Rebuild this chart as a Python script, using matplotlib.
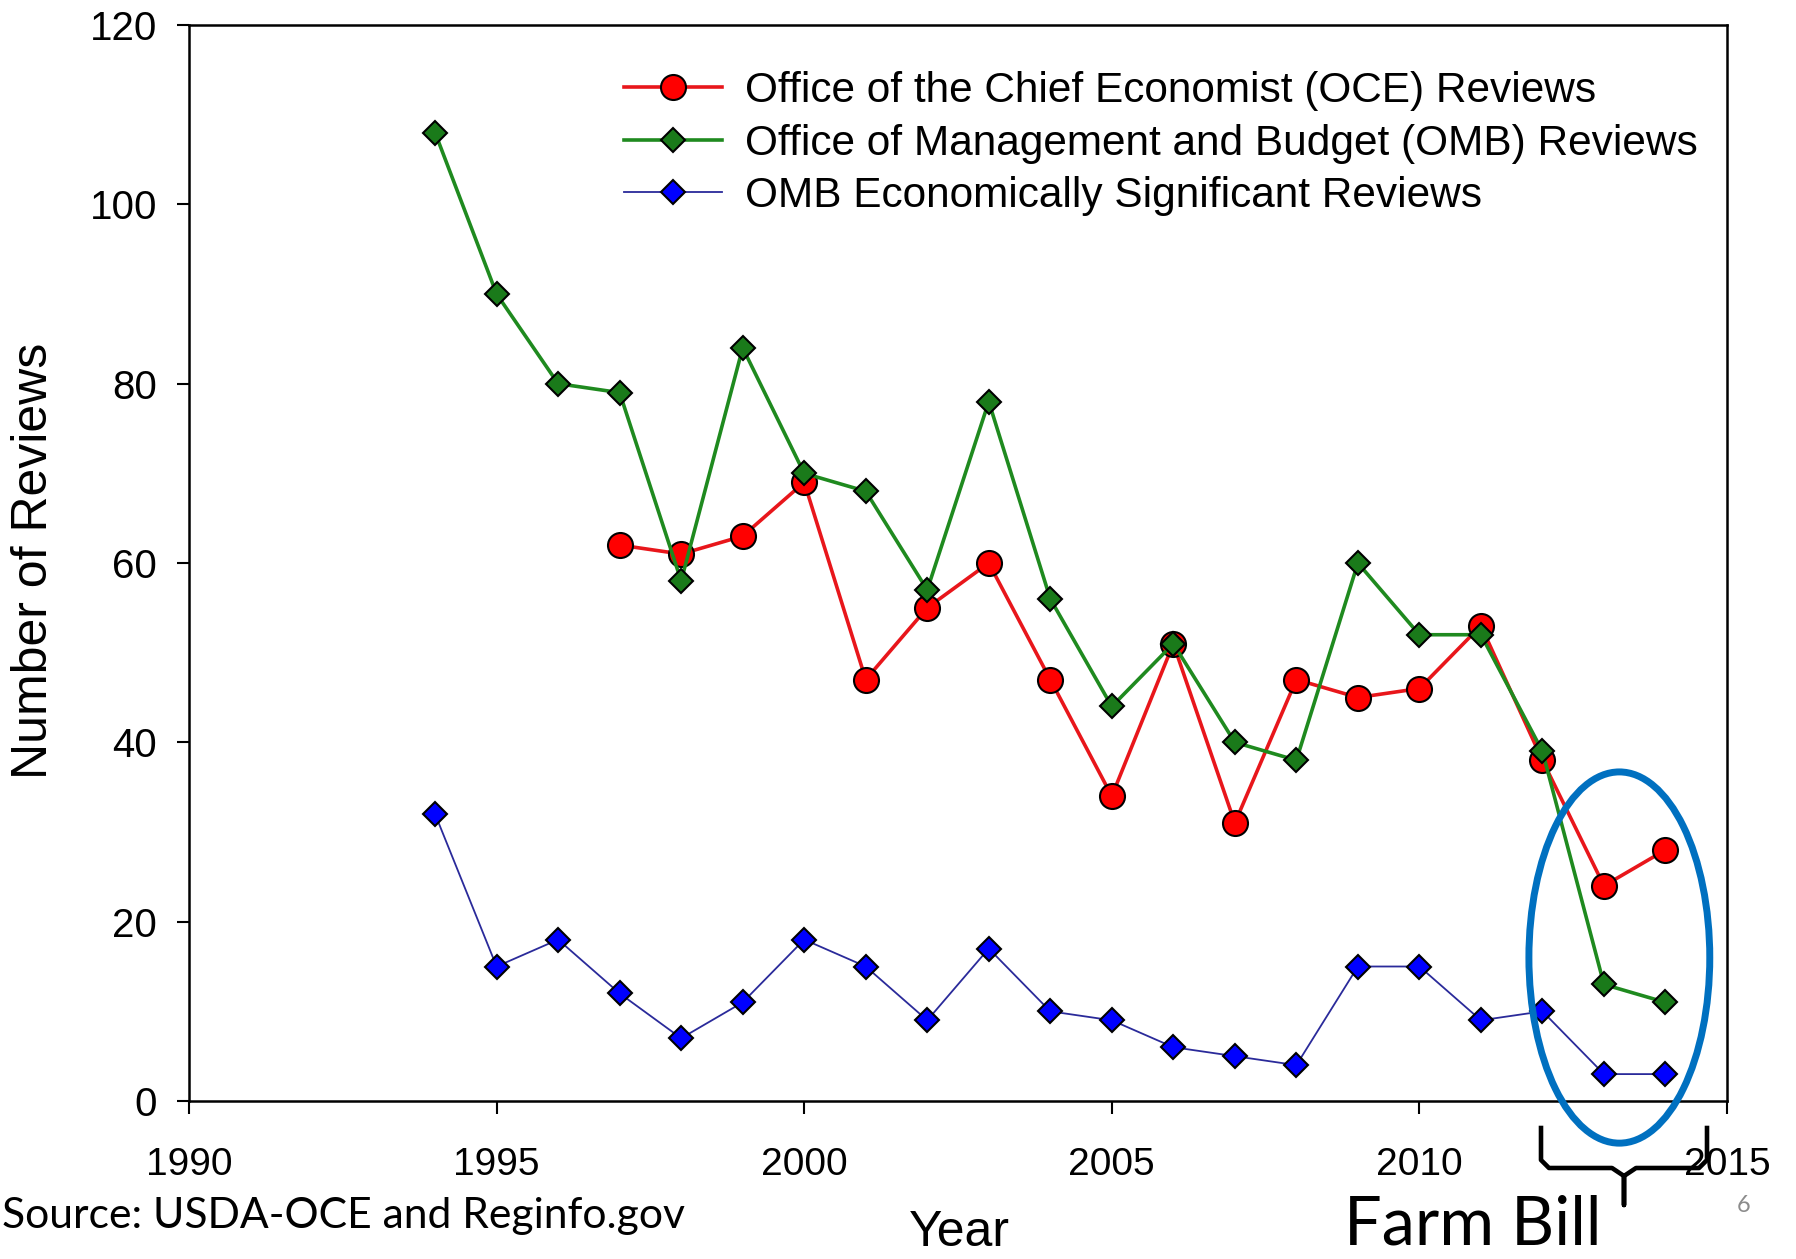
import matplotlib
matplotlib.use("Agg")
import matplotlib.pyplot as plt
from matplotlib.patches import Ellipse
from matplotlib.lines import Line2D

plt.rcParams['font.family'] = ['Liberation Sans', 'DejaVu Sans']

# datos
years_oce = [1997, 1998, 1999, 2000, 2001, 2002, 2003, 2004, 2005, 2006, 2007,
             2008, 2009, 2010, 2011, 2012, 2013, 2014]
oce = [62, 61, 63, 69, 47, 55, 60, 47, 34, 51, 31, 47, 45, 46, 53, 38, 24, 28]

years_omb = list(range(1994, 2015))
omb = [108, 90, 80, 79, 58, 84, 70, 68, 57, 78, 56, 44, 51, 40, 38, 60, 52, 52,
       39, 13, 11]
omb_sig = [32, 15, 18, 12, 7, 11, 18, 15, 9, 17, 10, 9, 6, 5, 4, 15, 15, 9,
           10, 3, 3]

labels = ['Office of the Chief Economist (OCE) Reviews',
          'Office of Management and Budget (OMB) Reviews',
          'OMB Economically Significant Reviews']
x_ticks = [1990, 1995, 2000, 2005, 2010, 2015]
y_ticks = [0, 20, 40, 60, 80, 100, 120]

W, H = 1796, 1259
fig = plt.figure(figsize=(W / 100, H / 100), dpi=100)
ax = fig.add_axes([189 / W, 1 - 1101 / H, 1538 / W, 1076 / H])

ax.plot(years_oce, oce, color='#e8161b', lw=2.6, marker='o', ms=18,
        mfc='#ff0000', mec='black', mew=1.5, label=labels[0], zorder=3)
ax.plot(years_omb, omb, color='#1f8a1f', lw=2.6, marker='D', ms=12.5,
        mfc='#1a7a1a', mec='black', mew=1.5, label=labels[1], zorder=4)
ax.plot(years_omb, omb_sig, color='#2a2a9a', lw=1.3, marker='D', ms=12.5,
        mfc='#0000ff', mec='black', mew=1.5, label=labels[2], zorder=5)

ax.set_xlim(1990, 2015)
ax.set_ylim(0, 120)
ax.set_xticks(x_ticks)
ax.set_yticks(y_ticks)
ax.tick_params(axis='x', labelsize=28, length=9, width=1.5, pad=24, direction='out')
ax.tick_params(axis='y', labelsize=29, length=9, width=1.5, pad=14, direction='out')
for s in ax.spines.values():
    s.set_linewidth(1.8)

ax.legend(loc='upper left', bbox_to_anchor=(0.283, 0.957), frameon=False,
          fontsize=30.5, handlelength=2.3, handletextpad=0.55,
          labelspacing=0.29, borderpad=0, borderaxespad=0)

fig.text(34 / W, 1 - 561 / H, 'Number of Reviews', rotation=90,
         ha='center', va='center', fontsize=36)
fig.text(959 / W, 0.002, 'Year', ha='center', va='bottom', fontsize=36)

# circulo del Farm Bill
ell = Ellipse((2013.25, 16.0), 2.94, 41.4, fill=False, edgecolor='#0070c0',
              lw=5, clip_on=False, zorder=6)
ax.add_patch(ell)

# llave
def fx(px):
    return px / W

def fy(py):
    return 1 - py / H

bx = [1541, 1541, 1549, 1612, 1624, 1624, 1624, 1636, 1699, 1707, 1707]
by = [1128, 1160, 1168, 1168, 1176, 1205, 1176, 1168, 1168, 1160, 1128]
fig.add_artist(Line2D([fx(v) for v in bx], [fy(v) for v in by],
                      color='black', lw=3.3, solid_joinstyle='round'))

fig.text(1473 / W, 0.002, 'Farm Bill', ha='center', va='bottom',
         fontsize=48, family=['Lato', 'DejaVu Sans'])
fig.text(2 / W, 1 - 1228 / H, 'Source: USDA-OCE and Reginfo.gov', ha='left',
         va='baseline', fontsize=30.7, family=['Lato', 'DejaVu Sans'])
fig.text(1744 / W, 1 - 1212 / H, '6', ha='center', va='baseline', fontsize=17,
         color='#8c8c8c', family=['Lato', 'DejaVu Sans'])

fig.savefig('out.png', dpi=100)
